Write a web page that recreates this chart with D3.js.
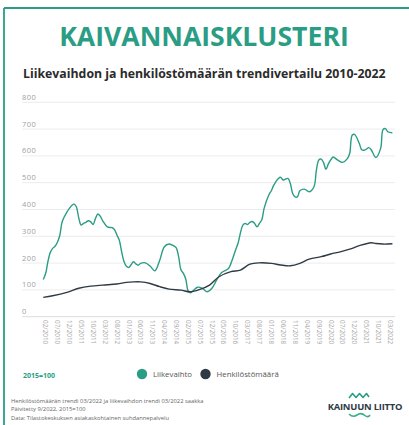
<!DOCTYPE html>
<html>
<head>
<meta charset="utf-8">
<script src="https://cdn.jsdelivr.net/npm/d3@7"></script>
<style>
  body { margin: 0; background: #fff; }
  svg { display: block; font-family: "Open Sans", sans-serif; }
</style>
</head>
<body>
<svg id="chart" width="409" height="425"></svg>
<script>
// Liikevaihdon trendi (2015=100)
const revenue = [
  ["01/2010", 139], ["02/2010", 162], ["03/2010", 205], ["04/2010", 240], ["05/2010", 255],
  ["06/2010", 263], ["07/2010", 278], ["08/2010", 304], ["09/2010", 355], ["11/2010", 391],
  ["12/2010", 404], ["01/2011", 415], ["02/2011", 420], ["03/2011", 410], ["04/2011", 368],
  ["05/2011", 342], ["06/2011", 348], ["07/2011", 352], ["08/2011", 358], ["09/2011", 354],
  ["10/2011", 344], ["11/2011", 367], ["12/2011", 383], ["01/2012", 375], ["02/2012", 358],
  ["04/2012", 335], ["06/2012", 332], ["07/2012", 325], ["08/2012", 305], ["09/2012", 285],
  ["10/2012", 242], ["11/2012", 205], ["12/2012", 188], ["01/2013", 184], ["02/2013", 195],
  ["03/2013", 205], ["04/2013", 197], ["05/2013", 192], ["06/2013", 199], ["08/2013", 201],
  ["10/2013", 189], ["12/2013", 171], ["02/2014", 211], ["04/2014", 261], ["06/2014", 271],
  ["08/2014", 264], ["09/2014", 257], ["10/2014", 224], ["11/2014", 174], ["12/2014", 162],
  ["01/2015", 140], ["02/2015", 95], ["03/2015", 89], ["04/2015", 96], ["06/2015", 110],
  ["08/2015", 106], ["10/2015", 93], ["12/2015", 106], ["02/2016", 137], ["04/2016", 164],
  ["07/2016", 180], ["08/2016", 199], ["10/2016", 250], ["11/2016", 275], ["01/2017", 342],
  ["02/2017", 348], ["03/2017", 344], ["04/2017", 352], ["05/2017", 355], ["06/2017", 348],
  ["07/2017", 335], ["08/2017", 348], ["09/2017", 362], ["10/2017", 405], ["12/2017", 455],
  ["01/2018", 470], ["02/2018", 491], ["04/2018", 516], ["05/2018", 520], ["06/2018", 510],
  ["08/2018", 516], ["09/2018", 497], ["10/2018", 460], ["11/2018", 447], ["12/2018", 447],
  ["01/2019", 470], ["03/2019", 476], ["05/2019", 466], ["07/2019", 485], ["08/2019", 547],
  ["09/2019", 585], ["10/2019", 588], ["11/2019", 575], ["12/2019", 550], ["01/2020", 570],
  ["02/2020", 585], ["03/2020", 596], ["05/2020", 584], ["07/2020", 576], ["09/2020", 590],
  ["10/2020", 610], ["11/2020", 677], ["12/2020", 680], ["02/2021", 646], ["03/2021", 624],
  ["04/2021", 621], ["05/2021", 625], ["06/2021", 631], ["07/2021", 624], ["09/2021", 594],
  ["11/2021", 628], ["12/2021", 698], ["01/2022", 702], ["02/2022", 690], ["04/2022", 686]
];

// Henkilöstömäärän trendi (2015=100)
const staff = [
  ["01/2010", 72], ["05/2010", 78], ["11/2010", 91], ["04/2011", 106], ["09/2011", 114],
  ["02/2012", 118], ["08/2012", 122], ["12/2012", 128], ["03/2013", 130], ["06/2013", 130],
  ["10/2013", 124], ["02/2014", 112], ["06/2014", 103], ["11/2014", 99], ["03/2015", 93],
  ["07/2015", 102], ["11/2015", 118], ["03/2016", 149], ["08/2016", 168], ["12/2016", 174],
  ["04/2017", 196], ["08/2017", 201], ["01/2018", 199], ["05/2018", 193], ["09/2018", 190],
  ["01/2019", 199], ["05/2019", 215], ["10/2019", 224], ["02/2020", 234], ["06/2020", 242],
  ["10/2020", 252], ["02/2021", 265], ["07/2021", 276], ["09/2021", 273], ["12/2021", 271],
  ["04/2022", 272]
];

const tickLabels = [
  "02/2010", "07/2010", "12/2010", "05/2011", "10/2011", "03/2012", "08/2012", "01/2013",
  "06/2013", "11/2013", "04/2014", "09/2014", "02/2015", "07/2015", "12/2015", "05/2016",
  "10/2016", "03/2017", "08/2017", "01/2018", "06/2018", "11/2018", "04/2019", "09/2019",
  "02/2020", "07/2020", "12/2020", "05/2021", "10/2021", "03/2022"
];

const yTicks = [0, 100, 200, 300, 400, 500, 600, 700, 800];

const seriesNames = ["Liikevaihto", "Henkilöstömäärä"];
const seriesColors = ["#2a9d84", "#2e3a45"];

const footnotes = [
  "Henkilöstömäärän trendi 03/2022 ja liikevaihdon trendi 03/2022 saakka",
  "Päivitetty 9/2022, 2015=100",
  "Data: Tilastokeskuksen asiakaskohtainen suhdannepalvelu"
];

const green = "#2a9d84";
const parseMonth = d3.timeParse("%m/%Y");

const svg = d3.select("#chart");

// frame
svg.append("line").attr("x1", 4).attr("x2", 409).attr("y1", 8).attr("y2", 8)
  .attr("stroke", green).attr("stroke-width", 1.8);
svg.append("line").attr("x1", 4).attr("x2", 4).attr("y1", 8).attr("y2", 425)
  .attr("stroke", green).attr("stroke-width", 1.8);

// titles
svg.append("text")
  .attr("x", 204).attr("y", 46)
  .attr("text-anchor", "middle")
  .attr("fill", green)
  .style("font-size", "26.6px").style("font-weight", 700)
  .text("KAIVANNAISKLUSTERI");

svg.append("text")
  .attr("x", 23).attr("y", 78)
  .attr("fill", "#2b2b2b")
  .style("font-size", "12.3px").style("font-weight", 700)
  .text("Liikevaihdon ja henkilöstömäärän trendivertailu 2010-2022");

// scales
const x = d3.scaleTime()
  .domain([parseMonth("02/2010"), parseMonth("03/2022")])
  .range([45.7, 390]);

const y = d3.scaleLinear()
  .domain([0, 800])
  .range([316.7, 102.3]);

// grid
svg.append("g")
  .selectAll("line")
  .data(yTicks)
  .join("line")
  .attr("x1", 22).attr("x2", 395)
  .attr("y1", d => y(d)).attr("y2", d => y(d))
  .attr("stroke", d => d === 0 ? "#dcdcdc" : "#ececec")
  .attr("stroke-width", 1);

svg.append("g")
  .selectAll("text")
  .data(yTicks)
  .join("text")
  .attr("x", 22).attr("y", d => y(d) - 2.5)
  .attr("fill", "#a0a0a0")
  .style("font-size", "7.5px")
  .style("letter-spacing", "0.4px")
  .text(d => d);

// x labels
svg.append("g")
  .selectAll("text")
  .data(tickLabels)
  .join("text")
  .attr("transform", d => `translate(${x(parseMonth(d))},320) rotate(90)`)
  .attr("dy", "0.35em")
  .attr("fill", "#a8a8a8")
  .style("font-size", "6.4px")
  .text(d => d);

// lines
const line = d3.line()
  .x(d => x(parseMonth(d[0])))
  .y(d => y(d[1]))
  .curve(d3.curveCatmullRom.alpha(0.5));

[revenue, staff].forEach((data, i) => {
  svg.append("path")
    .datum(data)
    .attr("fill", "none")
    .attr("stroke", seriesColors[i])
    .attr("stroke-width", 1.4)
    .attr("d", line);
});

// legend
svg.append("text")
  .attr("x", 23).attr("y", 378)
  .attr("fill", green)
  .style("font-size", "7px").style("font-weight", 700)
  .text("2015=100");

const legendX = [142, 205.5];
seriesNames.forEach((name, i) => {
  svg.append("circle")
    .attr("cx", legendX[i]).attr("cy", 374)
    .attr("r", 5.2)
    .attr("fill", seriesColors[i]);
  svg.append("text")
    .attr("x", legendX[i] + 11).attr("y", 377)
    .attr("fill", "#555")
    .style("font-size", "7.8px")
    .text(name);
});

// footnotes
svg.append("g")
  .selectAll("text")
  .data(footnotes)
  .join("text")
  .attr("x", 11).attr("y", (d, i) => 403 + i * 8.4)
  .attr("fill", "#666")
  .style("font-size", "5.8px")
  .text(d => d);

// Kainuun liitto logo
svg.append("path")
  .attr("d", "M349,398 L352.5,393.5 L356,397.5 L359.5,393.5 L363,397.5 L366.5,393.5 L369,397")
  .attr("fill", "none").attr("stroke", green).attr("stroke-width", 1.6)
  .attr("stroke-linejoin", "round");
svg.append("text")
  .attr("x", 365).attr("y", 410)
  .attr("text-anchor", "middle")
  .attr("fill", "#2e3a45")
  .style("font-size", "9.4px").style("font-weight", 700)
  .style("letter-spacing", "-0.2px")
  .text("KAINUUN LIITTO");
svg.append("path")
  .attr("d", "M349,414 Q353,418 357,415 Q361,412 365,415.5 Q368,418 370,415")
  .attr("fill", "none").attr("stroke", "#3aae84").attr("stroke-width", 1.6);
</script>
</body>
</html>
